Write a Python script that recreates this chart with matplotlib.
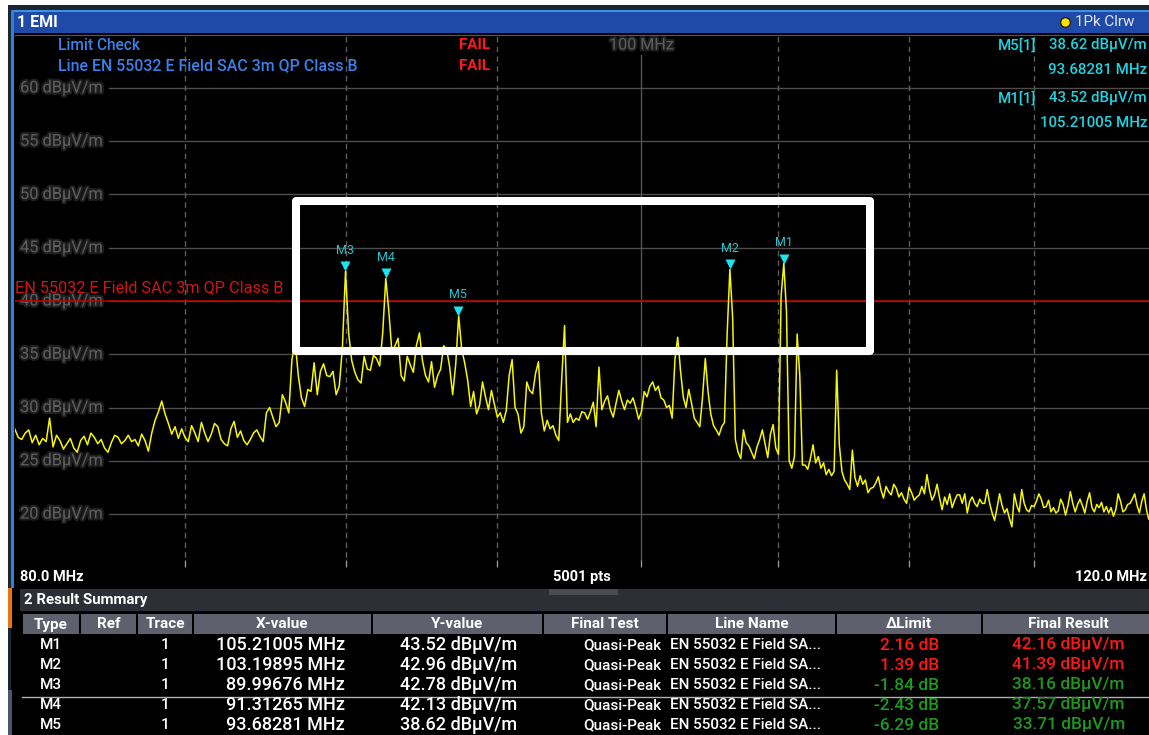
import numpy as np
import matplotlib.pyplot as plt
import matplotlib.patheffects as pe
from matplotlib.patches import Rectangle
from matplotlib.ticker import FixedLocator, NullFormatter, NullLocator
from matplotlib.transforms import blended_transform_factory

plt.rcParams['font.family'] = ['Roboto', 'DejaVu Sans']

# sweep settings
f_start, f_stop = 80.0, 120.0
sweep_points = 5001

# trace 1 (peak, clear write), dBuV/m every 0.1 MHz from 80 to 120 MHz
level = [
    28.0, 27.2, 27.0, 27.6, 27.9, 26.7, 27.4, 26.5, 27.1, 26.8,   # 80
    29.0, 26.3, 27.4, 26.9, 26.1, 26.6, 27.1, 26.2, 25.8, 26.9,   # 81
    27.3, 26.5, 27.6, 27.2, 26.6, 27.0, 26.2, 25.8, 26.7, 27.4,   # 82
    27.2, 26.6, 26.9, 27.4, 26.8, 27.0, 26.4, 27.5, 26.9, 25.9,   # 83
    27.6, 28.8, 29.6, 30.6, 29.4, 28.5, 27.5, 28.2, 27.1, 28.0,   # 84
    27.2, 26.8, 28.3, 27.6, 26.8, 28.6, 27.6, 26.8, 27.5, 28.5,   # 85
    28.2, 27.0, 26.6, 26.4, 28.0, 28.7, 27.2, 27.8, 26.9, 26.5,   # 86
    27.0, 27.6, 27.9, 27.3, 26.8, 29.5, 30.0, 29.1, 28.2, 28.6,   # 87
    31.2, 30.5, 29.5, 34.5, 36.2, 33.0, 30.9, 30.1, 31.7, 31.5,   # 88
    34.2, 31.2, 33.4, 34.1, 33.0, 32.9, 33.4, 31.2, 32.0, 35.6,   # 89
    42.78, 37.0, 34.4, 33.3, 32.6, 32.3, 34.8, 33.6, 33.5, 34.9,  # 90
    34.6, 33.9, 37.0, 42.13, 39.0, 35.2, 35.8, 36.5, 33.0, 32.5,  # 91
    34.8, 34.0, 33.3, 35.8, 37.0, 34.4, 33.0, 32.4, 34.3, 31.9,   # 92
    33.0, 33.6, 35.8, 35.5, 33.8, 31.2, 34.0, 38.62, 35.5, 34.2,  # 93
    32.6, 30.1, 31.5, 29.4, 30.2, 32.4, 31.0, 29.8, 31.6, 30.3,   # 94
    29.1, 29.5, 28.6, 29.7, 33.0, 34.5, 30.0, 29.4, 27.6, 28.2,   # 95
    32.4, 31.6, 31.3, 33.2, 34.3, 29.5, 27.8, 28.8, 28.0, 28.3,   # 96
    27.4, 26.9, 32.6, 37.7, 28.6, 29.4, 28.6, 29.0, 28.8, 29.6,   # 97
    29.5, 28.9, 29.6, 30.5, 28.2, 33.8, 29.8, 30.6, 31.1, 29.8,   # 98
    29.1, 30.4, 31.6, 30.6, 29.8, 30.7, 30.4, 30.9, 30.0, 28.9,   # 99
    29.6, 31.5, 31.0, 32.0, 32.4, 31.6, 32.0, 30.9, 30.7, 30.0,   # 100
    30.2, 29.0, 34.5, 36.6, 33.5, 31.0, 30.0, 31.7, 30.4, 29.0,   # 101
    28.6, 28.2, 31.0, 34.6, 31.5, 29.4, 28.3, 27.9, 27.4, 28.2,   # 102
    28.6, 37.0, 42.96, 38.5, 27.0, 25.8, 25.2, 27.9, 26.7, 26.4,  # 103
    25.8, 25.2, 26.3, 27.0, 27.9, 26.6, 25.3, 27.5, 28.4, 26.2,   # 104
    25.6, 40.5, 43.52, 39.0, 25.0, 24.3, 25.4, 36.9, 33.0, 24.6,  # 105
    24.6, 24.2, 25.2, 26.5, 24.8, 25.4, 24.3, 24.8, 23.7, 24.2,   # 106
    23.6, 24.0, 33.5, 26.5, 24.0, 23.2, 22.8, 22.3, 26.0, 23.4,   # 107
    22.6, 23.6, 22.8, 23.2, 22.0, 22.4, 22.5, 22.9, 23.5, 22.3,   # 108
    21.5, 22.6, 22.1, 21.8, 22.8, 22.4, 21.6, 22.0, 21.4, 21.0,   # 109
    22.5, 22.0, 21.3, 21.6, 21.8, 22.6, 21.9, 23.7, 22.3, 21.3,   # 110
    21.8, 22.8, 21.5, 20.4, 21.6, 20.9, 21.9, 20.6, 21.3, 21.8,   # 111
    21.8, 21.0, 21.9, 20.1, 21.2, 21.6, 21.0, 20.7, 21.4, 21.0,   # 112
    21.0, 22.3, 21.0, 20.1, 19.4, 20.6, 21.9, 20.8, 20.1, 20.5,   # 113
    19.6, 18.8, 21.9, 20.8, 20.2, 22.3, 21.0, 20.4, 20.2, 20.8,   # 114
    20.7, 21.2, 21.9, 21.4, 20.6, 20.7, 21.3, 20.2, 20.6, 20.1,   # 115
    20.3, 21.4, 20.9, 19.9, 20.8, 22.1, 21.0, 20.2, 20.9, 21.4,   # 116
    20.8, 20.1, 21.2, 22.0, 20.6, 20.2, 20.9, 20.6, 21.1, 20.2,   # 117
    20.7, 20.1, 20.6, 19.8, 20.4, 21.9, 21.2, 20.2, 20.4, 20.9,   # 118
    21.0, 21.4, 21.9, 20.8, 20.1, 21.2, 21.9, 20.4, 19.5, 20.3,   # 119
    20.6,
]
freq = np.linspace(f_start, f_stop, len(level))

limit_name = 'EN 55032 E Field SAC 3m QP Class B'
limit_level = 40.0

# markers / result summary
mk_names = ['M1', 'M2', 'M3', 'M4', 'M5']
mk_freq = [105.21005, 103.19895, 89.99676, 91.31265, 93.68281]
mk_level = [43.52, 42.96, 42.78, 42.13, 38.62]
final_result = [42.16, 41.39, 38.16, 37.57, 33.71]

y_grid = [20, 25, 30, 35, 40, 45, 50, 55, 60]
f_grid = [85, 90, 95, 105, 110, 115]

W, H = 1149, 735
CYAN = '#1fd3e0'
GREY = '#5f5f5f'

fig = plt.figure(figsize=(W / 100, H / 100), dpi=100, facecolor='black')

# background layer in pixel units
bg = fig.add_axes([0, 0, 1, 1])
bg.set_xlim(0, W)
bg.set_ylim(H, 0)
bg.axis('off')
bg.set_zorder(0)

def box(a, x0, y0, x1, y1, c, **kw):
    a.add_patch(Rectangle((x0, y0), x1 - x0, y1 - y0, facecolor=c, edgecolor='none', **kw))

box(bg, 0, 0, W, 5, 'white')
box(bg, 0, 0, 8, H, 'white')
box(bg, 8, 5, W, 10, '#1b2631')
box(bg, 8, 5, 11, H, '#1b2631')
box(bg, 11, 10, W, 33, '#1f4aa8')
box(bg, 11, 10, W, 11.5, '#3a93e6')
box(bg, 11, 10, 14, 588, '#2b84dc')
box(bg, 8, 588, 12, 628, '#e87511')
box(bg, 8, 690, 12, H, '#4c5566')
bg.text(17, 22, '1 EMI', color='white', fontsize=11.5, fontweight='bold', va='center')
bg.text(1075, 22, '1Pk Clrw', color='#e2e4ec', fontsize=11, va='center')
bg.plot(1065, 22, 'o', ms=7, mfc='#ffe100', mec='#202020', mew=1)

# spectrum axes: 15..65 dBuV/m, log frequency
ax = fig.add_axes([14.7 / W, (H - 567.3) / H, 1138.8 / W, 532.6 / H])
ax.set_zorder(1)
ax.set_facecolor('black')
ax.set_xscale('log')
ax.set_xlim(f_start, f_stop)
ax.set_ylim(15, 65)
for s in ['left', 'right', 'bottom']:
    ax.spines[s].set_visible(False)
ax.spines['top'].set_color('#585858')
ax.xaxis.set_major_locator(FixedLocator(f_grid + [100]))
ax.xaxis.set_minor_locator(NullLocator())
ax.xaxis.set_major_formatter(NullFormatter())
ax.tick_params(axis='x', direction='in', length=5, color='#9a9a9a')
ax.set_yticks([])

for v in y_grid:
    ax.axhline(v, color='#4d4d4d', lw=1, zorder=1)
for f in f_grid:
    ax.axvline(f, color='#5c5c5c', lw=1, ls=(0, (4, 3)), zorder=1)
ax.axvline(100, color='#545454', lw=1, zorder=1)

glow = [pe.withStroke(linewidth=3, foreground='#1e1e1e')]
ytr = blended_transform_factory(ax.transAxes, ax.transData)
for v in y_grid:
    ax.text(0.0047, v, f'{v} dBµV/m', transform=ytr, color=GREY, fontsize=11.8,
            va='center', ha='left', zorder=2,
            bbox=dict(facecolor='black', edgecolor='none', pad=4.5), path_effects=glow)
xtr = blended_transform_factory(ax.transData, ax.transAxes)
ax.text(100, 0.9807, '100 MHz', transform=xtr, color=GREY, fontsize=11.6,
        ha='center', va='center', zorder=2,
        bbox=dict(facecolor='black', edgecolor='none', pad=1.5), path_effects=glow)

# limit line
ax.axhline(limit_level, color='#c40000', lw=1.1, zorder=2.5)
ax.text(0.0, limit_level + 0.55, limit_name, transform=ytr, color='#d41414',
        fontsize=11.7, va='bottom', ha='left', zorder=2.6)

ax.plot(freq, level, color='#f7f700', lw=1.1, zorder=3)

# marker triangles with the tip on the trace
tip = [(-0.5, 1.0), (0.5, 1.0), (0.0, 0.0), (-0.5, 1.0)]
ax.plot(mk_freq, mk_level, ls='none', marker=tip, ms=14.4, mfc='#18e6f0', mew=0, zorder=4)
for n, f, v in zip(mk_names, mk_freq, mk_level):
    ax.annotate(n, (f, v), xytext=(0, 15), textcoords='offset points', ha='center',
                va='center', color='#22c4cf', fontsize=9, zorder=4)

# overlay layer: readouts, highlight frame, table
ov = fig.add_axes([0, 0, 1, 1])
ov.set_xlim(0, W)
ov.set_ylim(H, 0)
ov.axis('off')
ov.set_zorder(2)
ov.patch.set_visible(False)

MED = 'medium'
ov.text(58, 45, 'Limit Check', color='#3a80ea', fontsize=11.2, va='center', fontweight=MED)
ov.text(58, 66, f'Line {limit_name}', color='#3a80ea', fontsize=11.4, va='center', fontweight=MED)
ov.text(490, 45, 'FAIL', color='#ff1a1a', fontsize=10.8, va='center', ha='right', fontweight='bold')
ov.text(490, 66, 'FAIL', color='#ff1a1a', fontsize=10.8, va='center', ha='right', fontweight='bold')

for row, i in zip([45, 98], [4, 0]):
    ov.text(1036, row, f'{mk_names[i]}[1]', color=CYAN, fontsize=10.8, va='center', ha='right',
            fontweight=MED)
    ov.text(1147, row, f'{mk_level[i]:.2f} dBµV/m', color=CYAN, fontsize=10.8, va='center',
            ha='right', fontweight=MED)
    ov.text(1147, row + 25, f'{mk_freq[i]:.5f} MHz', color=CYAN, fontsize=10.8, va='center',
            ha='right', fontweight=MED)

ov.add_patch(Rectangle((296, 201), 574, 150, facecolor='none', edgecolor='white',
                       lw=5.8, joinstyle='round'))

# frequency span row
box(ov, 14, 568, W, 588, 'black')
ov.text(20, 577, f'{f_start:.1f} MHz', color='white', fontsize=10.5, fontweight='bold', va='center')
ov.text(582, 577, f'{sweep_points} pts', color='white', fontsize=10.5, fontweight='bold',
        va='center', ha='center')
ov.text(1147, 577, f'{f_stop:.1f} MHz', color='white', fontsize=10.5, fontweight='bold',
        va='center', ha='right')

# result summary table
box(ov, 20, 589, W, 611, '#2c2f35')
box(ov, 549, 589, 618, 595, '#4a4c52')
ov.text(24, 600, '2 Result Summary', color='white', fontsize=10.8, fontweight='bold', va='center')

cols = [22, 80, 137, 193, 372, 543, 667, 836, 982, 1154]
heads = ['Type', 'Ref', 'Trace', 'X-value', 'Y-value', 'Final Test', 'Line Name', 'ΔLimit', 'Final Result']
for c0, c1, t in zip(cols[:-1], cols[1:], heads):
    box(ov, c0 + 1, 614, c1 - 1, 634, '#5e606e')
    ov.text((c0 + c1) / 2, 624.5, t, color='white', fontsize=11, fontweight='bold',
            ha='center', va='center')

short_name = limit_name[:19] + '...'
for k, (n, f, v, r) in enumerate(zip(mk_names, mk_freq, mk_level, final_result)):
    y = 645 + 20 * k
    d = r - limit_level
    c = '#ff1616' if d > 0 else '#1f981f'
    ov.text(40, y, n, color='white', fontsize=11, va='center', fontweight=MED)
    ov.text(165, y, '1', color='white', fontsize=11, va='center', ha='center', fontweight=MED)
    ov.text(345, y, f'{f:.5f} MHz', color='white', fontsize=13, va='center', ha='right', fontweight=MED)
    ov.text(517, y, f'{v:.2f} dBµV/m', color='white', fontsize=13, va='center', ha='right', fontweight=MED)
    ov.text(661, y, 'Quasi-Peak', color='white', fontsize=11, va='center', ha='right', fontweight=MED)
    ov.text(670, y, short_name, color='white', fontsize=11, va='center', ha='left', fontweight=MED)
    ov.text(939, y, f'{d:.2f} dB', color=c, fontsize=12.5, va='center', ha='right', fontweight=MED)
    ov.text(1125, y, f'{r:.2f} dBµV/m', color=c, fontsize=12.5, va='center', ha='right', fontweight=MED)
ov.plot([22, W], [697, 697], color='#b0b0b0', lw=1)

fig.savefig('out.png', dpi=100, facecolor='black')
